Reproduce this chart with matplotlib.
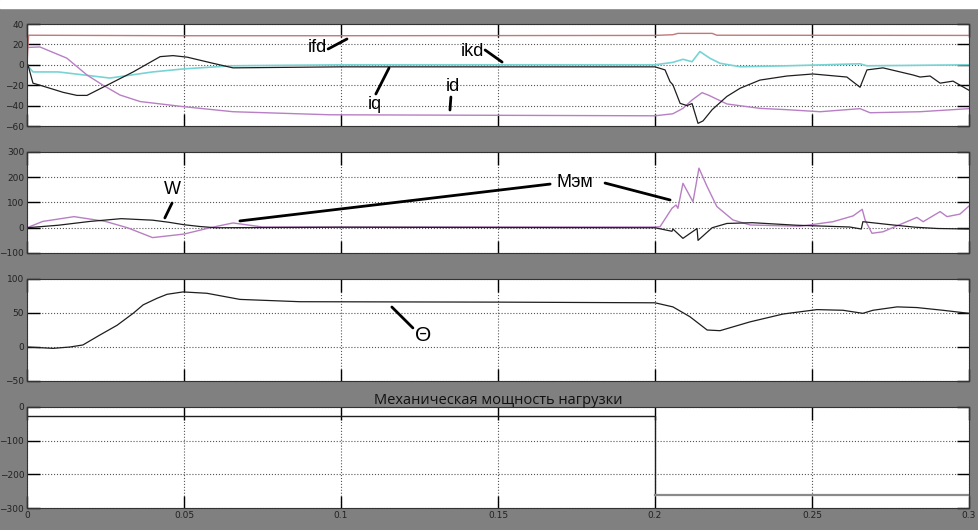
import matplotlib
matplotlib.use('Agg')
import matplotlib.pyplot as plt
from matplotlib.patches import Rectangle

# --- данные (считаны с осциллограммы) ---
# токи
ifd_t = [0, 0.0005, 0.05, 0.1, 0.2, 0.2057, 0.2073, 0.2182, 0.2197, 0.3]
ifd_v = [0, 29, 28.5, 28.5, 28.8, 29.5, 30.8, 30.8, 29, 28.8]

id_t = [0, 0.0041, 0.0127, 0.0191, 0.0242, 0.0296, 0.036, 0.0497, 0.0656, 0.0965, 0.2,
        0.2057, 0.2089, 0.2118, 0.2150, 0.2172, 0.2229, 0.2334, 0.242, 0.2526,
        0.2653, 0.2685, 0.2844, 0.3]
id_v = [17, 17.5, 6.5, -10, -20, -29.6, -36, -41, -46, -49, -50,
        -48, -42.7, -34.5, -27.3, -30, -38.4, -42.7, -44, -46,
        -43, -47, -46, -43]

iq_t = [0, 0.0003, 0.0019, 0.0041, 0.0073, 0.0115, 0.0159, 0.0191, 0.0255, 0.0338, 0.0424,
        0.0465, 0.051, 0.0592, 0.0656, 0.1, 0.2, 0.2032, 0.2048, 0.2057, 0.208, 0.2102,
        0.2118, 0.2137, 0.2153, 0.2182, 0.2229, 0.2271, 0.2334, 0.242, 0.2503,
        0.2611, 0.2653, 0.2675, 0.2726, 0.2822, 0.2844, 0.2876, 0.2908, 0.2949, 0.3]
iq_v = [0, 0, -18, -20, -23, -27, -30, -30, -20, -7, 8,
        9, 7.5, 1.5, -3, -2, -2, -5, -16.6, -19.6, -37.8, -40,
        -38, -57.4, -55, -44, -31, -23, -15, -11, -9,
        -12, -22, -5, -3, -10, -12, -11, -18, -16, -25]

ikd_t = [0, 0.0019, 0.01, 0.0264, 0.04, 0.05, 0.065, 0.1, 0.2, 0.2057, 0.2089,
         0.2118, 0.2143, 0.2175, 0.2207, 0.2271, 0.242, 0.2653, 0.2675, 0.3]
ikd_v = [0, -7, -7, -13, -7, -4, -1, 0, 0, 2.4, 5.4,
         3, 13, 6.4, 1.5, -1.9, -1, 1, -1, 0]

# момент и скорость
mem_t = [0, 0.005, 0.015, 0.025, 0.032, 0.04, 0.05, 0.0583, 0.0656, 0.075, 0.1, 0.2,
         0.2016, 0.2054, 0.2067, 0.2073, 0.2089, 0.2121, 0.214, 0.2166, 0.2197,
         0.2248, 0.2303, 0.2462, 0.2567, 0.2631, 0.266, 0.2669, 0.2691, 0.2726,
         0.2834, 0.2854, 0.2908, 0.293, 0.2971, 0.3]
mem_v = [0, 25, 44, 25, 0, -39, -25, 0, 19, 3, 3, 3,
         4, 77, 90, 77, 176, 103, 236, 163, 84,
         31, 11, 6, 24, 47, 73, 31, -22, -16,
         41, 24, 64, 44, 54, 86]

w_t = [0, 0.01, 0.02, 0.03, 0.04, 0.045, 0.05, 0.055, 0.06, 0.1, 0.2,
       0.2054, 0.2057, 0.2089, 0.2134, 0.2137, 0.2182, 0.2229, 0.231, 0.245,
       0.262, 0.2657, 0.2662, 0.275, 0.283, 0.29, 0.3]
w_v = [0, 10, 25, 36, 30, 22, 12, 5, 0, 2, 0,
       -14, -5, -42, -3, -50, 0, 17, 20, 10,
       3, -5, 24, 12, 2, -3, -5]

# угол нагрузки
theta_t = [0, 0.0083, 0.0137, 0.0178, 0.0232, 0.0287, 0.0338, 0.037, 0.0414, 0.0446,
           0.0497, 0.0573, 0.0678, 0.0869, 0.15, 0.2, 0.2057, 0.2111, 0.2166, 0.2207,
           0.2303, 0.2408, 0.2516, 0.2599, 0.2662, 0.2694, 0.2771, 0.2834, 0.2917, 0.3]
theta_v = [0, -2, 0, 3, 17.6, 32, 49.5, 62, 71.6, 77.5,
           81, 79, 70, 66.6, 66, 65, 59, 44.6, 25, 24,
           37, 48.5, 55, 54, 49.5, 54, 59, 58, 54, 49.5]

# механическая мощность нагрузки
load_t = [0, 0.2, 0.2, 0.3]
load_p = [-27, -27, -261, -261]

xticks = [0, 0.05, 0.1, 0.15, 0.2, 0.25, 0.3]
xlabels = ['0', '0.05', '0.1', '0.15', '0.2', '0.25', '0.3']

c_black = '#1e1e1e'
c_red = '#c07878'
c_violet = '#b87fc4'
c_cyan = '#78d4d4'

fig = plt.figure(figsize=(9.79, 5.30), dpi=100, facecolor='#808080')
fig.patches.append(Rectangle((0, 1 - 8 / 530), 1, 8 / 530, transform=fig.transFigure,
                             color='white', zorder=0))

L, W = 27 / 979, 942 / 979
panels = [(126, 102), (253, 101), (381, 102), (508, 101)]
axes = []
for bottom_px, h_px in panels:
    ax = fig.add_axes([L, 1 - bottom_px / 530, W, h_px / 530])
    ax.set_facecolor('white')
    ax.set_xlim(0, 0.3)
    ax.set_xticks(xticks)
    ax.grid(True, linestyle=':', color='#555555', linewidth=0.8)
    ax.tick_params(direction='in', length=9, width=1, top=True, right=True,
                   labelsize=6.5, labelcolor='#222222', pad=2)
    for s in ax.spines.values():
        s.set_color('#333333')
    axes.append(ax)

ax1, ax2, ax3, ax4 = axes
for ax in axes[:3]:
    ax.set_xticklabels([])
ax4.set_xticklabels(xlabels)

# панель 1: токи
ax1.plot(ifd_t, ifd_v, color=c_red, lw=1)
ax1.plot(ikd_t, ikd_v, color=c_cyan, lw=1.2)
ax1.plot(id_t, id_v, color=c_violet, lw=1)
ax1.plot(iq_t, iq_v, color=c_black, lw=0.9)
ax1.set_ylim(-60, 40)
ax1.set_yticks([-60, -40, -20, 0, 20, 40])

# панель 2: Мэм и W
ax2.plot(mem_t, mem_v, color=c_violet, lw=1)
ax2.plot(w_t, w_v, color=c_black, lw=0.9)
ax2.set_ylim(-100, 300)
ax2.set_yticks([-100, 0, 100, 200, 300])

# панель 3: угол
ax3.plot(theta_t, theta_v, color=c_black, lw=0.9)
ax3.set_ylim(-50, 100)
ax3.set_yticks([-50, 0, 50, 100])

# панель 4: мощность нагрузки
ax4.plot(load_t[:3], load_p[:3], color=c_black, lw=1)
ax4.plot(load_t[2:], load_p[2:], color='#8a8a8a', lw=1.6)
ax4.set_ylim(-300, 0)
ax4.set_yticks([-300, -200, -100, 0])
ax4.set_title('Механическая мощность нагрузки', fontsize=10.5, family='Open Sans',
              color='#111111', pad=2)

# подписи кривых с выносками
labels = [
    (ax1, 'ifd', (0.0924, 16.5), (0.0959, 15.5), (0.1019, 25.3)),
    (ax1, 'ikd', (0.1417, 13.5), (0.1459, 14.5), (0.1513, 2.7)),
    (ax1, 'iq', (0.1108, -39.4), (0.1111, -28.6), (0.1153, -3.1)),
    (ax1, 'id', (0.1357, -20.8), (0.1350, -31.6), (0.1347, -44.3)),
    (ax2, 'W', (0.0462, 150), (0.0462, 98), (0.0439, 39)),
    (ax2, 'Мэм', (0.1745, 181), (0.1666, 173), (0.0678, 27)),
    (ax2, '', (0.1745, 181), (0.1841, 177), (0.2048, 110)),
    (ax3, 'Θ', (0.1261, 17.6), (0.1162, 58.8), (0.1229, 28)),
]
for ax, txt, pos, p0, p1 in labels:
    if txt:
        ax.text(pos[0], pos[1], txt, fontsize=13 if txt != 'Θ' else 15,
                family='Liberation Sans', ha='center', va='center', color='black')
    ax.annotate('', xy=p1, xytext=p0,
                arrowprops=dict(arrowstyle='-', lw=2, color='black',
                                shrinkA=0, shrinkB=0))

fig.savefig('out.png', dpi=100, facecolor=fig.get_facecolor())
